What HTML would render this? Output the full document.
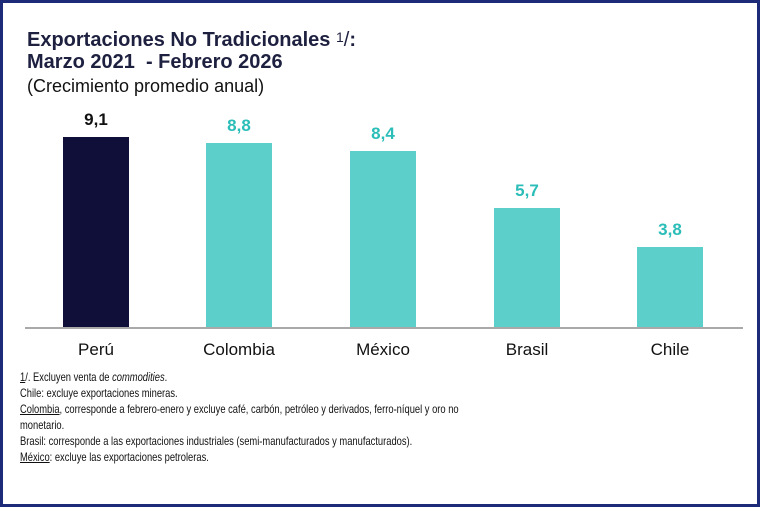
<!DOCTYPE html>
<html><head><meta charset="utf-8"><style>
body{margin:0;width:760px;height:507px;background:#fff;overflow:hidden;font-family:"Liberation Sans",sans-serif}
.frame{position:absolute;left:0;top:0;width:754px;height:501px;border:3px solid #1c2a78}
.t{position:absolute;left:27px;color:#1e2040;white-space:nowrap}
.bar{position:absolute;width:66px}
.v{position:absolute;width:100px;text-align:center;font-weight:bold;font-size:17px}
.c{position:absolute;width:140px;text-align:center;font-size:17px;color:#111;top:340px}
.fn{position:absolute;left:20px;font-size:12px;color:#111;transform:scaleX(0.78);transform-origin:left;white-space:nowrap;line-height:16px;top:369px}
</style></head><body>
<div class="frame"></div>
<div class="t" style="top:29px;font-size:20px;font-weight:bold">Exportaciones No Tradicionales <span style="font-weight:normal;font-size:14px;vertical-align:4px">1</span><span style="font-weight:normal">/</span>:</div>
<div class="t" style="top:51px;font-size:20px;font-weight:bold">Marzo 2021 &nbsp;- Febrero 2026</div>
<div class="t" style="top:76px;font-size:18px;color:#111">(Crecimiento promedio anual)</div>

<div class="bar" style="left:63px;top:137px;height:191px;background:#0f0f3a"></div>
<div class="bar" style="left:206px;top:143px;height:185px;background:#5ccfcb"></div>
<div class="bar" style="left:350px;top:151px;height:177px;background:#5ccfcb"></div>
<div class="bar" style="left:494px;top:208px;height:120px;background:#5ccfcb"></div>
<div class="bar" style="left:637px;top:247px;height:81px;background:#5ccfcb"></div>
<div style="position:absolute;left:25px;top:327px;width:718px;height:2px;background:#a9a9a9"></div>

<div class="v" style="left:46px;top:110px;color:#111">9,1</div>
<div class="v" style="left:189px;top:116px;color:#2bbdb8">8,8</div>
<div class="v" style="left:333px;top:124px;color:#2bbdb8">8,4</div>
<div class="v" style="left:477px;top:181px;color:#2bbdb8">5,7</div>
<div class="v" style="left:620px;top:220px;color:#2bbdb8">3,8</div>

<div class="c" style="left:26px">Perú</div>
<div class="c" style="left:169px">Colombia</div>
<div class="c" style="left:313px">México</div>
<div class="c" style="left:457px">Brasil</div>
<div class="c" style="left:600px">Chile</div>

<div class="fn"><u>1</u>/. Excluyen venta de <i>commodities</i>.<br>Chile: excluye exportaciones mineras.<br><u>Colombia</u>, corresponde a febrero-enero y excluye café, carbón, petróleo y derivados, ferro-níquel y oro no<br>monetario.<br>Brasil: corresponde a las exportaciones industriales (semi-manufacturados y manufacturados).<br><u>México</u>: excluye las exportaciones petroleras.</div>
</body></html>
